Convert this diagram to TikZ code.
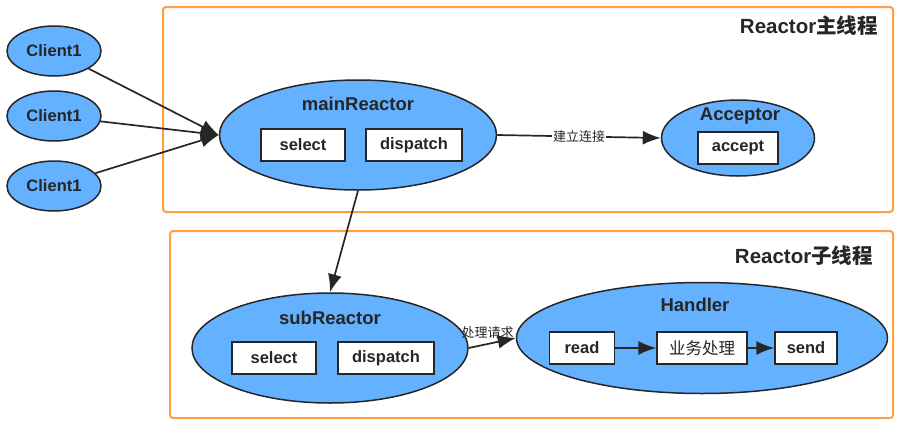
\documentclass[tikz,border=0pt]{standalone}
\usepackage{fontspec}
\setmainfont{Liberation Sans}
\newfontfamily\cjk{Noto Sans CJK SC}
\usetikzlibrary{shapes.geometric,arrows.meta,positioning}

\definecolor{reactorblue}{HTML}{63B1FF}
\definecolor{frameorange}{HTML}{FFA040}
\definecolor{inkgray}{HTML}{262626}

\tikzstyle{client} = [ellipse, minimum width=94pt, minimum height=50pt, draw=inkgray,
line width=1.5pt, fill=reactorblue, text=inkgray, font=\fontsize{16.5}{19}\selectfont\bfseries]
\tikzstyle{reactor} = [ellipse, draw=inkgray, line width=1.5pt, fill=reactorblue]
\tikzstyle{title} = [text=inkgray, inner sep=0pt, font=\fontsize{18.5}{21}\selectfont\bfseries]
\tikzstyle{inner} = [rectangle, minimum height=32pt, draw=inkgray, line width=1.5pt,
fill=white, text=inkgray, font=\fontsize{16.5}{19}\selectfont\bfseries]
\tikzstyle{frame} = [draw=frameorange, line width=2pt, rounded corners=3pt]
\tikzstyle{frametitle} = [anchor=east, inner sep=0pt, text=inkgray, font=\fontsize{20.5}{23}\selectfont\bfseries]
\tikzstyle{cjklabel} = [fill=white, inner sep=1pt, text=inkgray, font=\fontsize{13}{15}\selectfont\cjk]
\tikzstyle{arrow} = [line width=1.7pt, draw=inkgray, -{Latex[length=18pt,width=14pt]}]

\begin{document}
\begin{tikzpicture}[x=1pt, y=-1pt]
			\useasboundingbox (0,0) rectangle (900,426);

			% thread frames
			\draw [frame] (163,7) rectangle (893,212);
			\draw [frame] (170,231) rectangle (893,418);
			\node (mainThread) [frametitle] at (878,26) {Reactor{\cjk 主线程}};
			\node (subThread) [frametitle] at (873,256) {Reactor{\cjk 子线程}};

			% clients
			\node (clientA) [client] at (54,51) {Client1};
			\node (clientB) [client] at (54,116) {Client1};
			\node (clientC) [client] at (54,186) {Client1};

			% main reactor
			\node (mainReactor) [reactor, minimum width=277pt, minimum height=110pt] at (358,135) {};
			\node (mainTitle) [title] at (358,104) {mainReactor};
			\node (mainSelect) [inner, minimum width=84pt] at (303,145) {select};
			\node (mainDispatch) [inner, minimum width=96pt] at (414,145) {dispatch};

			% acceptor
			\node (acceptor) [reactor, minimum width=153pt, minimum height=76pt] at (738,138) {};
			\node (acceptorTitle) [title] at (740,116) {Acceptor};
			\node (accept) [inner, minimum width=80pt] at (738,148) {accept};

			% sub reactor
			\node (subReactor) [reactor, minimum width=276pt, minimum height=110pt] at (330,348) {};
			\node (subTitle) [title] at (330,318) {subReactor};
			\node (subSelect) [inner, minimum width=84pt] at (274,358) {select};
			\node (subDispatch) [inner, minimum width=96pt] at (386,358) {dispatch};

			% handler
			\node (handler) [reactor, minimum width=371pt, minimum height=111pt] at (702,338) {};
			\node (handlerTitle) [title] at (695,305) {Handler};
			\node (read) [inner, minimum width=65pt] at (582,348) {read};
			\node (business) [inner, minimum width=90pt, font=\fontsize{16.5}{19}\selectfont\cjk] at (702,348) {业务处理};
			\node (send) [inner, minimum width=62pt] at (806,348) {send};

			\draw [arrow] (clientA) -- (mainReactor.west);
			\draw [arrow] (clientB) -- (mainReactor.west);
			\draw [arrow] (clientC) -- (mainReactor.west);
			\draw [arrow] (mainReactor.east) -- node [cjklabel, pos=0.5] {建立连接} (acceptor.west);
			\draw [arrow] (mainReactor.south) -- (subReactor.north);
			\draw [arrow] (subReactor.east) -- node [cjklabel, above, fill=none, pos=0.4, yshift=4pt] {处理请求} (handler.west);
			\draw [arrow] (read) -- (business);
			\draw [arrow] (business) -- (send);

		\end{tikzpicture}
\end{document}
